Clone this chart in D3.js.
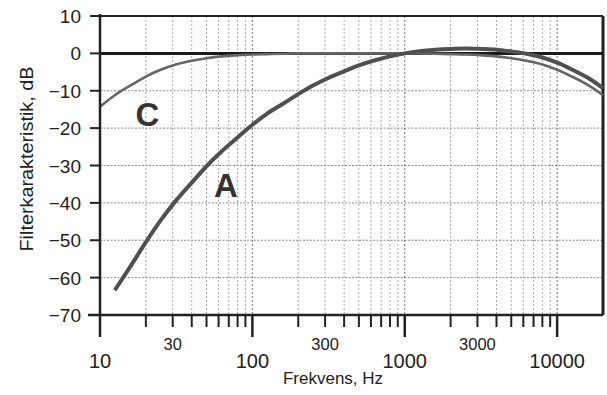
<!DOCTYPE html>
<html>
<head>
<meta charset="utf-8">
<script src="https://cdn.jsdelivr.net/npm/d3@7"></script>
<style>
  body { margin: 0; background: #fff; }
  svg { display: block; font-family: "Liberation Sans", Arial, sans-serif; }
</style>
</head>
<body>
<svg width="607" height="395"></svg>
<script>
// frequencies (Hz), third-octave
const freqs = [10, 12.5, 16, 20, 25, 31.5, 40, 50, 63, 80, 100, 125, 160, 200, 250, 315, 400, 500, 630, 800,
  1000, 1250, 1600, 2000, 2500, 3150, 4000, 5000, 6300, 8000, 10000, 12500, 16000, 20000];
// A curve (null where not drawn)
const aValues = [null, -63.4, -56.7, -50.5, -44.7, -39.4, -34.6, -30.2, -26.2, -22.5, -19.1, -16.1, -13.4, -10.9, -8.6, -6.6, -4.8, -3.2, -1.9, -0.8,
  0, 0.6, 1.0, 1.2, 1.3, 1.2, 1.0, 0.5, -0.1, -1.1, -2.5, -4.3, -6.6, -9.3];
// C curve
const cValues = [-14.3, -11.2, -8.5, -6.2, -4.4, -3.0, -2.0, -1.3, -0.8, -0.5, -0.3, -0.2, -0.1, 0, 0, 0, 0, 0, 0, 0,
  0, 0, -0.1, -0.2, -0.3, -0.5, -0.8, -1.3, -2.0, -3.0, -4.4, -6.2, -8.5, -11.2];

const yTicks = [10, 0, -10, -20, -30, -40, -50, -60, -70];
const xMajorTicks = [10, 100, 1000, 10000];
const xMinorLabels = [30, 300, 3000];
const curveLabels = [{ name: 'C', f: 20.5, v: -19.4 }, { name: 'A', f: 67, v: -38.4 }];

const margin = { top: 16, right: 4, bottom: 80, left: 100 };
const width = 607, height = 395;

const svg = d3.select('svg');

const x = d3.scaleLog().domain([10, 20000]).range([margin.left, width - margin.right]);
const y = d3.scaleLinear().domain([-70, 10]).range([height - margin.bottom, margin.top]);

// minor frequencies for grid / ticks
const minorFreqs = [];
[10, 100, 1000].forEach(dec => {
  for (let m = 2; m <= 9; m++) minorFreqs.push(dec * m);
});

const grid = svg.append('g');

// horizontal grid
grid.selectAll('.hgrid')
  .data(yTicks.filter(v => v !== 10 && v !== -70 && v !== 0))
  .enter()
  .append('line')
  .attr('x1', x(10)).attr('x2', x(20000))
  .attr('y1', d => y(d)).attr('y2', d => y(d))
  .attr('stroke', '#8a8a8a')
  .attr('stroke-width', 1)
  .attr('stroke-dasharray', '2,1.5');

// vertical grid
grid.selectAll('.vgrid')
  .data(minorFreqs.concat([100, 1000, 10000]))
  .enter()
  .append('line')
  .attr('x1', d => x(d)).attr('x2', d => x(d))
  .attr('y1', y(10)).attr('y2', y(-70))
  .attr('stroke', d => xMajorTicks.includes(d) ? '#777' : '#aaa')
  .attr('stroke-width', 1)
  .attr('stroke-dasharray', '2,2');

// frame: top and right
svg.append('line')
  .attr('x1', x(10)).attr('x2', x(20000))
  .attr('y1', y(10)).attr('y2', y(10))
  .attr('stroke', '#222').attr('stroke-width', 2);
svg.append('line')
  .attr('x1', x(20000)).attr('x2', x(20000))
  .attr('y1', y(10)).attr('y2', y(-70))
  .attr('stroke', '#222').attr('stroke-width', 3);

// 0 dB line
svg.append('line')
  .attr('x1', x(10)).attr('x2', x(20000))
  .attr('y1', y(0)).attr('y2', y(0))
  .attr('stroke', '#1a1a1a').attr('stroke-width', 3);

// curves
const line = d3.line()
  .defined(d => d[1] !== null)
  .x(d => x(d[0]))
  .y(d => y(d[1]))
  .curve(d3.curveMonotoneX);

svg.append('path')
  .datum(freqs.map((f, i) => [f, cValues[i]]))
  .attr('d', line)
  .attr('fill', 'none')
  .attr('stroke', '#666')
  .attr('stroke-width', 2.6);

svg.append('path')
  .datum(freqs.map((f, i) => [f, aValues[i]]))
  .attr('d', line)
  .attr('fill', 'none')
  .attr('stroke', '#505050')
  .attr('stroke-width', 4);

// axes
const y0 = y(-70);
svg.append('line')
  .attr('x1', x(10) - 12).attr('x2', x(20000))
  .attr('y1', y0).attr('y2', y0)
  .attr('stroke', '#222').attr('stroke-width', 2.5);
svg.append('line')
  .attr('x1', x(10)).attr('x2', x(10))
  .attr('y1', y(10) - 2).attr('y2', y0 + 22)
  .attr('stroke', '#222').attr('stroke-width', 2.5);

// x ticks
svg.selectAll('.xminor')
  .data(minorFreqs)
  .enter()
  .append('line')
  .attr('x1', d => x(d)).attr('x2', d => x(d))
  .attr('y1', y0).attr('y2', y0 + 12)
  .attr('stroke', '#222').attr('stroke-width', 2);
svg.selectAll('.xmajor')
  .data(xMajorTicks.slice(1))
  .enter()
  .append('line')
  .attr('x1', d => x(d)).attr('x2', d => x(d))
  .attr('y1', y0).attr('y2', y0 + 22)
  .attr('stroke', '#222').attr('stroke-width', 2.5);

svg.selectAll('.xlab')
  .data(xMajorTicks)
  .enter()
  .append('text')
  .attr('x', d => x(d))
  .attr('y', y0 + 53)
  .attr('text-anchor', 'middle')
  .attr('font-size', 20)
  .attr('fill', '#222')
  .text(d => d);
svg.selectAll('.xlab2')
  .data(xMinorLabels)
  .enter()
  .append('text')
  .attr('x', d => x(d))
  .attr('y', y0 + 35)
  .attr('text-anchor', 'middle')
  .attr('font-size', 16.5)
  .attr('fill', '#222')
  .text(d => d);

// y ticks
svg.selectAll('.ytick')
  .data(yTicks)
  .enter()
  .append('line')
  .attr('x1', x(10) - 10).attr('x2', x(10))
  .attr('y1', d => y(d)).attr('y2', d => y(d))
  .attr('stroke', '#222').attr('stroke-width', 2);
svg.selectAll('.ylab')
  .data(yTicks)
  .enter()
  .append('text')
  .attr('x', x(10) - 19)
  .attr('y', d => y(d) + 7)
  .attr('text-anchor', 'end')
  .attr('font-size', 19)
  .attr('fill', '#222')
  .text(d => d < 0 ? '\u2212' + Math.abs(d) : d);

// axis titles
svg.append('text')
  .attr('x', 333).attr('y', 384)
  .attr('text-anchor', 'middle')
  .attr('font-size', 17)
  .attr('fill', '#222')
  .text('Frekvens, Hz');
svg.append('text')
  .attr('transform', 'translate(33,159) rotate(-90)')
  .attr('text-anchor', 'middle')
  .attr('font-size', 18)
  .attr('textLength', 185)
  .attr('lengthAdjust', 'spacingAndGlyphs')
  .attr('fill', '#222')
  .text('Filterkarakteristik, dB');

// curve labels
svg.selectAll('.clab')
  .data(curveLabels)
  .enter()
  .append('text')
  .attr('x', d => x(d.f))
  .attr('y', d => y(d.v))
  .attr('text-anchor', 'middle')
  .attr('font-size', 33)
  .attr('font-weight', 'bold')
  .attr('fill', '#333')
  .text(d => d.name);
</script>
</body>
</html>
